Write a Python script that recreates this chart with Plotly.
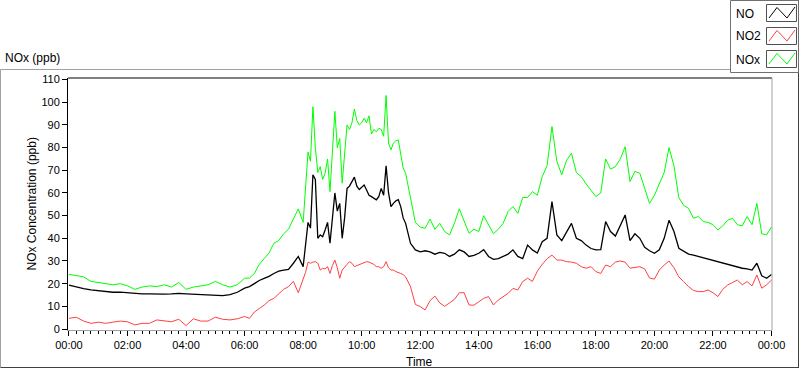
import pandas as pd
import plotly.graph_objects as go

# ---------------- data ----------------
# sample times in minutes after midnight (irregular grid used for reading)
minutes = (list(range(0, 360, 15)) + list(range(360, 480, 10))
           + list(range(480, 690, 5)) + list(range(690, 1441, 10)))

no_ppb = [
    # 00:00-05:45 (15 min)
    19.4, 18.5, 17.8, 17.3, 17.0, 16.8, 16.2, 16.3, 16.0, 15.8, 15.5, 15.5,
    15.3, 15.4, 15.5, 15.7, 15.5, 15.4, 15.3, 15.0, 14.8, 14.7, 15.2, 16.2,
    # 06:00-07:50 (10 min)
    18.0, 18.7, 20.0, 21.4, 22.3, 23.2, 24.5, 25.5, 26.0, 26.3, 29.0, 32.0,
    # 08:00-11:25 (5 min)
    27.5, 38.0, 47.0, 44.5, 68.0, 66.0, 40.0, 41.5, 40.7, 43.7, 47.0, 37.8,
    48.5, 60.0, 52.0, 55.4, 40.0, 49.0, 62.0, 63.0, 65.0, 67.0, 63.0, 61.5,
    62.5, 63.5, 61.3, 59.0, 58.4, 57.5, 57.0, 58.4, 62.0, 59.0, 72.0, 60.0,
    54.0, 55.4, 56.5, 57.0, 54.0, 49.0,
    # 11:30-24:00 (10 min)
    46.6, 37.8, 34.9,
    34.0, 34.5, 34.0, 33.0, 33.8, 33.4,
    32.0, 33.0, 34.9, 34.0, 32.0, 32.5,
    33.4, 35.0, 32.0, 30.7, 31.0, 31.9,
    33.0, 34.9, 32.0, 31.0, 37.0, 34.9,
    33.5, 38.5, 40.0, 56.2, 41.5, 39.0,
    43.0, 46.6, 40.0, 39.0, 37.0, 35.5,
    34.9, 35.0, 47.4, 43.0, 41.0, 46.0,
    50.3, 39.0, 42.0, 40.0, 36.0, 34.5,
    33.4, 34.9, 40.0, 48.0, 43.0, 35.6,
    34.1, 33.0, 32.6, 32.0, 31.5, 31.0,
    30.4, 29.7, 29.3, 28.6, 28.0, 27.5,
    26.8, 26.5, 26.0, 29.0, 23.5, 22.4,
    24.0,
]

no2_ppb = [
    4.7, 5.2, 3.5, 2.5, 3.0, 2.5, 3.0, 3.5, 3.2, 1.8, 2.5, 2.5,
    4.0, 3.5, 3.2, 4.3, 1.5, 4.5, 3.5, 3.5, 5.2, 4.3, 4.0, 4.5,
    5.5, 4.7, 7.5, 9.0, 10.5, 12.5, 13.5, 15.5, 17.5, 18.7, 21.0, 16.0,
    21.6, 25.0, 29.5, 29.0, 29.5, 29.7, 29.0, 26.0, 26.8, 26.5, 27.5, 24.5,
    28.0, 30.4, 27.0, 22.4, 26.0, 27.5, 28.5, 29.7, 29.0, 27.5, 28.0, 28.2,
    29.0, 29.5, 29.7, 29.5, 29.0, 28.5, 27.5, 27.5, 26.8, 27.5, 29.7, 27.0,
    26.0, 26.0, 25.3, 25.0, 24.5, 24.0,
    23.0, 18.7, 10.8,
    9.9, 8.4, 12.5, 14.5, 11.5, 10.0,
    11.5, 13.0, 16.0, 16.0, 10.6, 10.5,
    12.0, 13.5, 14.3, 10.6, 12.8, 14.3,
    15.7, 17.9, 17.2, 20.9, 22.4, 21.0,
    25.5, 28.5, 31.0, 32.6, 30.4, 30.4,
    29.7, 29.5, 29.0, 27.5, 26.8, 27.5,
    25.3, 24.5, 28.2, 27.5, 29.5, 30.0,
    29.5, 26.8, 27.0, 27.5, 26.5, 22.5,
    22.0, 26.0, 28.2, 30.0, 27.0, 23.0,
    20.9, 18.7, 17.0, 16.5, 16.5, 17.2,
    16.0, 14.3, 17.5, 19.4, 20.5, 21.6,
    19.5, 20.9, 19.0, 23.8, 18.0, 19.5,
    21.6,
]

nox_ppb = [
    24.1, 23.5, 23.0, 21.0, 20.4, 20.0, 19.5, 20.0, 19.0, 17.5, 18.5, 19.0,
    18.7, 19.5, 18.5, 20.5, 17.5, 18.5, 19.0, 19.5, 21.0, 19.5, 18.5, 19.5,
    22.4, 22.5, 24.5, 28.5, 31.0, 33.5, 37.8, 39.0, 42.0, 44.0, 48.5, 53.0,
    47.0, 63.0, 78.0, 74.0, 98.0, 80.0, 69.0, 71.6, 66.0, 68.7, 75.0, 60.6,
    78.0, 96.0, 80.0, 84.0, 64.3, 78.0, 90.0, 88.0, 91.0, 97.0, 92.0, 90.0,
    91.0, 93.0, 91.0, 94.0, 86.0, 88.0, 87.0, 88.5, 88.0, 85.0, 103.0, 82.0,
    79.0, 82.0, 83.0, 83.4, 78.0, 71.0,
    68.7, 58.4, 47.0,
    45.0, 44.4, 48.5, 44.0, 46.6, 43.0,
    41.5, 46.6, 53.0, 48.0, 42.2, 44.0,
    43.0, 50.0, 45.9, 42.0, 44.0, 46.6,
    51.8, 54.0, 51.0, 58.0, 58.0, 60.6,
    59.0, 67.2, 72.0, 89.3, 74.0, 68.0,
    74.5, 77.5, 69.0, 67.2, 64.0, 61.0,
    58.4, 60.0, 75.0, 70.5, 71.6, 75.0,
    80.4, 65.0, 69.5, 68.7, 62.0, 55.4,
    59.0, 64.0, 69.0, 80.0, 72.0, 58.0,
    54.5, 53.2, 48.8, 49.6, 47.4, 47.0,
    46.0, 43.7, 45.5, 48.0, 48.8, 46.0,
    45.5, 49.6, 46.0, 55.4, 42.0, 41.5,
    45.0,
]

series_names = ["NO", "NO2", "NOx"]
series_colors = ["#000000", "#ff4040", "#00ff00"]

# ---------------- figure ----------------
W, H = 800, 369
L, R, T, B = 68, 28, 78, 39
PW, PH = W - L - R, H - T - B


def px(xp):
    return (xp - L) / PW


def py(yp):
    return (H - B - yp) / PH


base = pd.Timestamp("2024-01-01")
times = [base + pd.Timedelta(minutes=m) for m in minutes]

fig = go.Figure()
for name, vals, col, lw in zip(series_names, [no_ppb, no2_ppb, nox_ppb],
                               series_colors, [1.3, 1, 1]):
    fig.add_trace(go.Scatter(x=times, y=vals, mode="lines", name=name,
                             line=dict(color=col, width=lw), showlegend=False))

font_family = "Liberation Sans, Arial, sans-serif"
fig.update_layout(
    width=W, height=H, margin=dict(l=L, r=R, t=T, b=B, pad=0),
    paper_bgcolor="white", plot_bgcolor="white", showlegend=False,
    font=dict(family=font_family, size=11, color="black"),
    xaxis=dict(
        type="date",
        range=[base - pd.Timedelta(minutes=2), base + pd.Timedelta(hours=24, minutes=1)],
        tick0=base, dtick=2 * 3600 * 1000, tickformat="%H:%M",
        ticks="outside", ticklen=5, tickcolor="black", tickwidth=1,
        showgrid=False, zeroline=False, showline=True, linecolor="#a0a0a0", linewidth=1,
        minor=dict(dtick=15 * 60 * 1000, ticks="outside", ticklen=3,
                   tickcolor="black", showgrid=False),
        tickfont=dict(size=11),
    ),
    yaxis=dict(
        range=[-0.44, 110.7], tick0=0, dtick=10,
        ticks="outside", ticklen=5, tickcolor="black",
        showgrid=False, zeroline=False, showline=True, linecolor="black", linewidth=1,
        tickfont=dict(size=11),
    ),
)

shapes = []
# plot frame top (black) and right (gray)
shapes.append(dict(type="line", xref="paper", yref="paper", x0=0, x1=1, y0=1, y1=1,
                   line=dict(color="black", width=1)))
shapes.append(dict(type="line", xref="paper", yref="paper", x0=1, x1=1, y0=0, y1=1,
                   line=dict(color="#a0a0a0", width=1)))
# outer panel frame
shapes.append(dict(type="line", xref="paper", yref="paper", x0=px(0.5), x1=px(730), y0=py(69.5), y1=py(69.5),
                   line=dict(color="#a0a0a0", width=1)))
shapes.append(dict(type="line", xref="paper", yref="paper", x0=px(0.5), x1=px(0.5), y0=py(69.5), y1=py(367.5),
                   line=dict(color="#a0a0a0", width=1)))
shapes.append(dict(type="line", xref="paper", yref="paper", x0=px(0.5), x1=px(799), y0=py(367.5), y1=py(367.5),
                   line=dict(color="#404040", width=1)))
shapes.append(dict(type="line", xref="paper", yref="paper", x0=px(798.5), x1=px(798.5), y0=py(0), y1=py(367.5),
                   line=dict(color="#404040", width=1)))
# legend box
shapes.append(dict(type="rect", xref="paper", yref="paper", x0=px(730.5), x1=px(798.5), y0=py(0.5), y1=py(72.5),
                   line=dict(color="#707070", width=1), fillcolor="white"))

annotations = []
for i, (name, col) in enumerate(zip(series_names, series_colors)):
    top = 4 + 23 * i
    shapes.append(dict(type="rect", xref="paper", yref="paper",
                       x0=px(766.5), x1=px(796.5), y0=py(top + 0.5), y1=py(top + 17.5),
                       line=dict(color="#505050", width=1), fillcolor="white"))
    pts = [(769, top + 14), (777, top + 3.5), (787, top + 14), (795, top + 3)]
    path = "M " + " L ".join(f"{px(a):.5f},{py(b):.5f}" for a, b in pts)
    shapes.append(dict(type="path", xref="paper", yref="paper", path=path,
                       line=dict(color=col, width=1)))
    annotations.append(dict(text=name, xref="paper", yref="paper", x=px(734), y=py(top + 9.5),
                            xanchor="left", yanchor="middle", showarrow=False,
                            font=dict(size=12, family=font_family, color="black")))

annotations.append(dict(text="NOx (ppb)", xref="paper", yref="paper", x=px(3), y=py(58),
                        xanchor="left", yanchor="middle", showarrow=False,
                        font=dict(size=12, family=font_family, color="black")))
annotations.append(dict(text="NOx Concentration (ppb)", xref="paper", yref="paper",
                        x=px(31.5), y=py(204), xanchor="center", yanchor="middle",
                        textangle=-90, showarrow=False,
                        font=dict(size=12, family=font_family, color="black")))
annotations.append(dict(text="Time", xref="paper", yref="paper", x=px(404), y=py(361.5),
                        xanchor="left", yanchor="middle", showarrow=False,
                        font=dict(size=12, family=font_family, color="black")))

fig.update_layout(shapes=shapes, annotations=annotations)
fig.write_html("out.html", config={"displayModeBar": False},
               post_script="document.body.style.margin='0px';document.body.style.overflow='hidden';")
